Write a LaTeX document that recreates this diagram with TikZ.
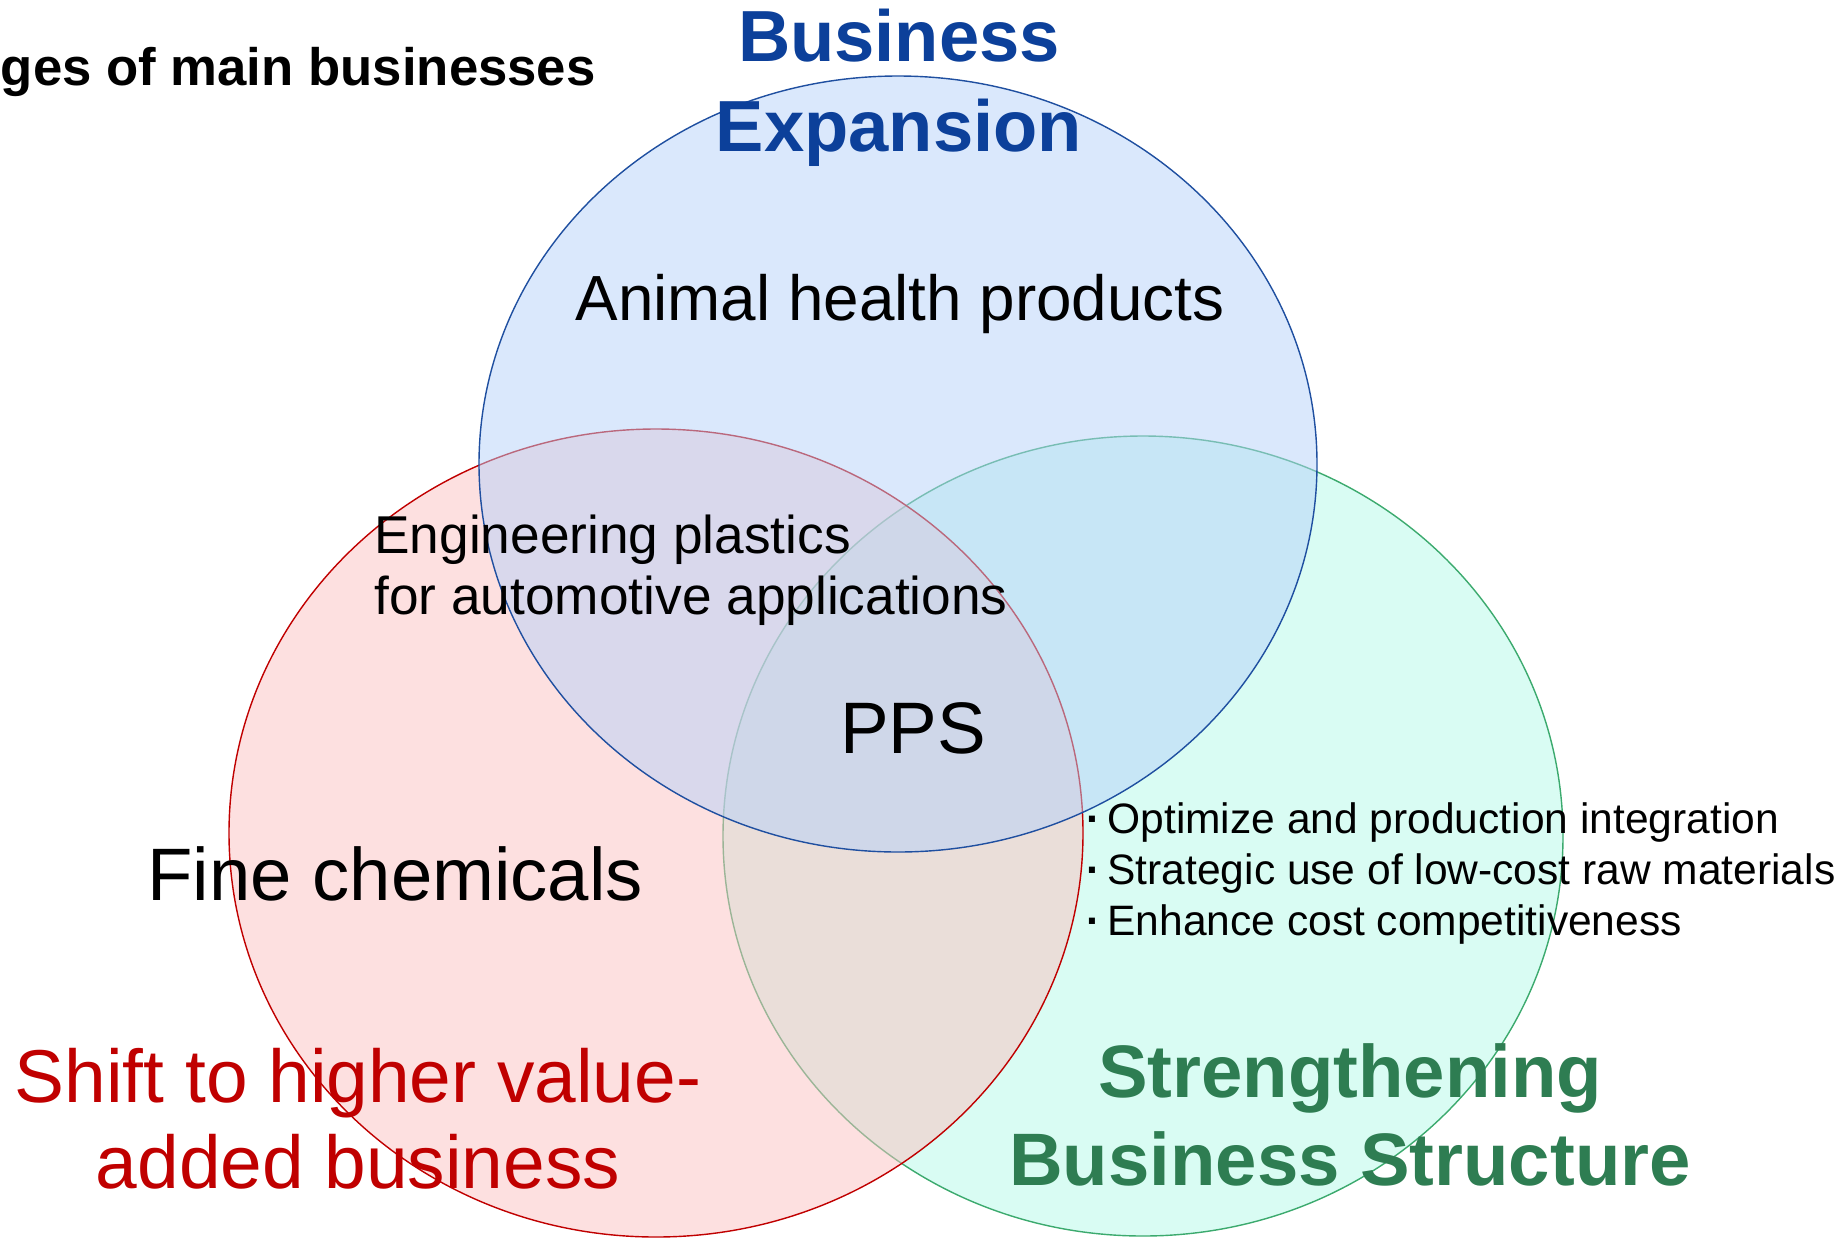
\documentclass[tikz,border=0pt]{standalone}
\usepackage{fontspec}
\setmainfont{Liberation Sans}
\usepackage{xcolor}

\definecolor{expfill}{RGB}{181,209,249}
\definecolor{expline}{RGB}{31,79,160}
\definecolor{valfill}{RGB}{251,193,193}
\definecolor{valline}{RGB}{192,0,0}
\definecolor{strfill}{RGB}{179,249,231}
\definecolor{strline}{RGB}{60,170,110}
\definecolor{exptext}{RGB}{12,64,154}
\definecolor{strtext}{RGB}{46,125,82}

\newcommand{\dotitem}{\makebox[16pt]{\bfseries ·}}

\begin{document}
\begin{tikzpicture}[
        x=0.2mm, y=-0.2mm,
        field/.style={fill opacity=0.5, line width=0.8pt},
        theme/.style={align=center, anchor=base, inner sep=0pt},
        product/.style={anchor=base, inner sep=0pt},
        measure/.style={font=\fontsize{24.2}{29}\selectfont, align=left, anchor=base west, inner sep=0pt}
    ]
        \useasboundingbox (0,0) rectangle (1844,1238);

        % the three fields, back to front
        \filldraw[field, fill=strfill, draw=strline] (1143,836) ellipse [x radius=420, y radius=400];
        \filldraw[field, fill=valfill, draw=valline] (656,833) ellipse [x radius=427, y radius=404];
        \filldraw[field, fill=expfill, draw=expline] (898,464) ellipse [x radius=419, y radius=388];

        % title
        \node[anchor=base east, inner sep=0pt, font=\bfseries\fontsize{30}{36}\selectfont] (title) at (596,85) {ges of main businesses};

        % themes (base = last line)
        \node[theme, text=exptext, font=\bfseries\fontsize{41.2}{51}\selectfont] (expansion) at (899,151) {Business\\Expansion};
        \node[theme, text=valline, font=\fontsize{42.6}{48.4}\selectfont] (valueadded) at (358,1188) {Shift to higher value-\\added business};
        \node[theme, text=strtext, font=\bfseries\fontsize{42.3}{50}\selectfont] (structure) at (1350,1185) {Strengthening\\Business Structure};

        % products
        \node[product, font=\fontsize{36.3}{43}\selectfont] (animal) at (900,320) {Animal health products};
        \node[product, anchor=base west, align=left, font=\fontsize{30.3}{34.7}\selectfont] (plastics) at (374,614) {Engineering plastics\\for automotive applications};
        \node[product, font=\fontsize{41.5}{48}\selectfont] (pps) at (913,753) {PPS};
        \node[product, anchor=base west, font=\fontsize{42.3}{50}\selectfont] (fine) at (147,900) {Fine chemicals};

        % measures
        \node[measure] (measures) at (1079,935) {\dotitem Optimize and production integration\\\dotitem Strategic use of low-cost raw materials\\\dotitem Enhance cost competitiveness};

    \end{tikzpicture}
\end{document}
